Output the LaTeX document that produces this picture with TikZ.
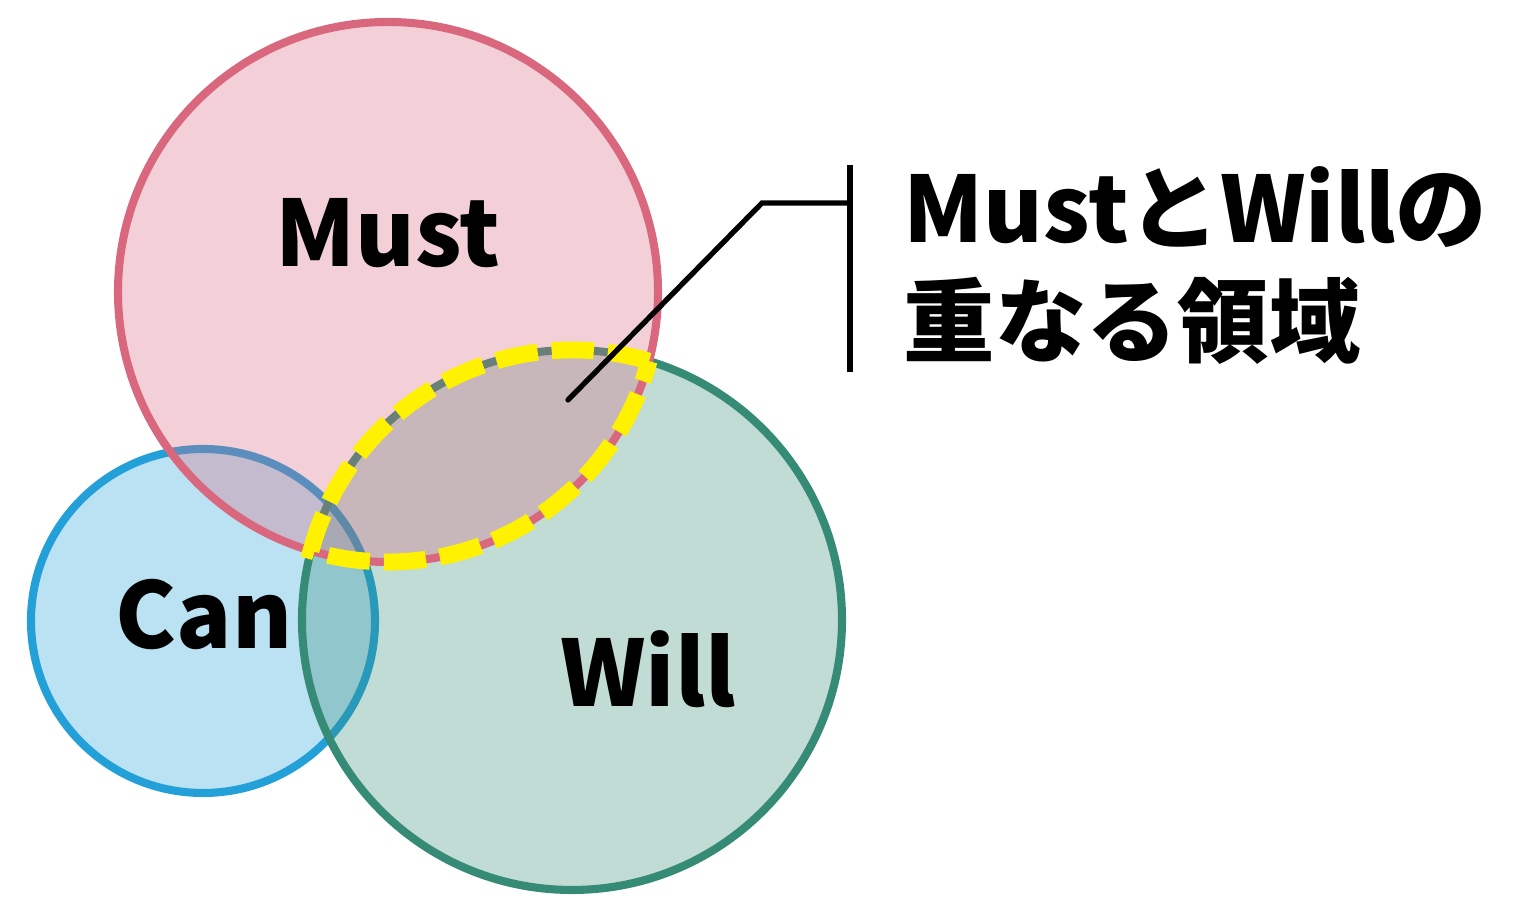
\documentclass[tikz,border=0pt]{standalone}
\usepackage{fontspec}
\setmainfont{Noto Sans CJK JP}
\begin{document}
\begin{tikzpicture}[set/.style={line width=2.3pt,fill opacity=0.31},
    lbl/.style={font=\bfseries\fontsize{26}{32}\selectfont,inner sep=0pt},
    lens/.style={yellow,line width=4.8pt,dash pattern=on 12pt off 4pt},
    callout/.style={line width=1.5pt,line cap=round}]
        \useasboundingbox (0,0) rectangle (15.29,9.16);
        \definecolor{canc}{HTML}{23A0D8}
        \definecolor{willc}{HTML}{368B76}
        \definecolor{mustc}{HTML}{D9687F}
        \draw[set,draw=canc,fill=canc] (2.03,2.95) circle (1.72);
        \draw[set,draw=willc,fill=willc] (5.72,2.96) circle (2.70);
        \draw[set,draw=mustc,fill=mustc] (3.88,6.24) circle (2.70);
        \coordinate (P) at (6.4898,5.5479);
        \draw[lens] (P) arc[start angle=73.43,end angle=165.15,radius=2.70]
            arc[start angle=253.43,end angle=345.15,radius=2.70] -- cycle;
        \node[lbl] (Must) at (3.88,6.83) {Must};
        \node[lbl] (Can) at (2.04,3.01) {Can};
        \node[lbl] (Will) at (6.48,2.47) {Will};
        \coordinate (tip) at (5.68,5.16);
        \coordinate (bend) at (7.62,7.13);
        \coordinate (bar) at (8.48,7.13);
        \coordinate (top) at (8.50,7.51);
        \coordinate (bot) at (8.50,5.44);
        \draw[callout] (tip) -- (bend) -- (bar);
        \draw[callout,line width=1.7pt,line cap=butt] (top) -- (bot);
        \node[lbl,anchor=north west,align=left] (MW) at (9.03,7.50) {MustとWillの\\重なる領域};
\end{tikzpicture}
\end{document}
